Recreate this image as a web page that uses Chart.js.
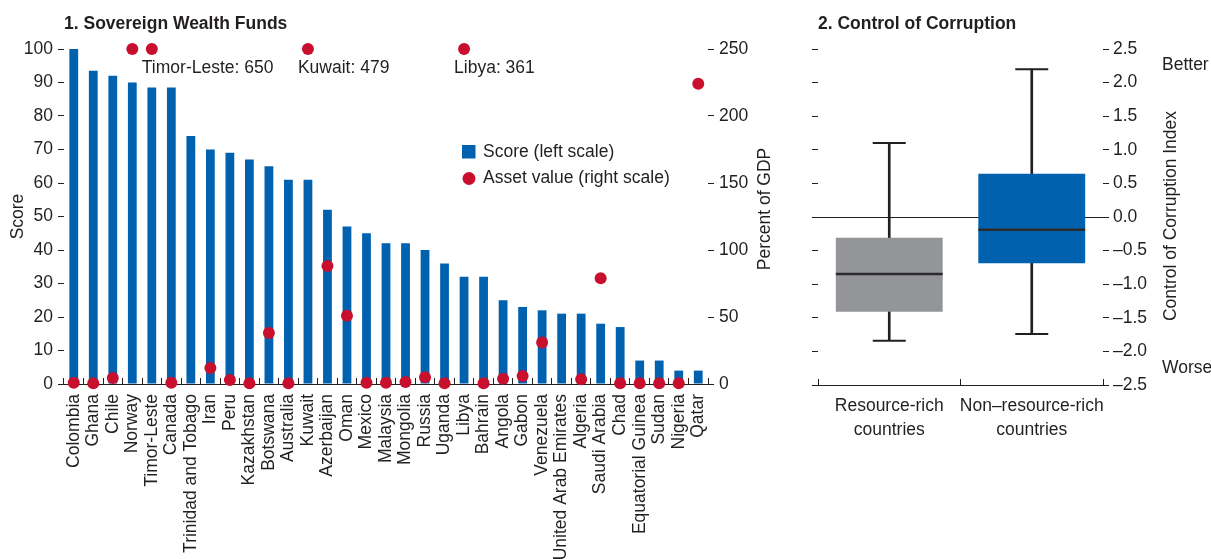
<!DOCTYPE html>
<html><head><meta charset="utf-8">
<script src="https://cdn.jsdelivr.net/npm/chart.js@4.4.0/dist/chart.umd.min.js"></script>
<style>
html,body{margin:0;padding:0;background:#fff;}
#wrap{position:relative;width:1211px;height:559px;overflow:hidden;background:#fff;}
#c1{position:absolute;left:0;top:0;}
#c2{position:absolute;left:790px;top:0;}
</style></head><body>
<div id="wrap"><canvas id="c1" width="790" height="559"></canvas><canvas id="c2" width="421" height="559"></canvas></div>
<script>
// ---------- Panel 1 data ----------
const countries = ["Colombia","Ghana","Chile","Norway","Timor-Leste","Canada","Trinidad and Tobago","Iran","Peru","Kazakhstan","Botswana","Australia","Kuwait","Azerbaijan","Oman","Mexico","Malaysia","Mongolia","Russia","Uganda","Libya","Bahrain","Angola","Gabon","Venezuela","United Arab Emirates","Algeria","Saudi Arabia","Chad","Equatorial Guinea","Sudan","Nigeria","Qatar"];
const scores = [100,93.5,92,90,88.5,88.5,74,70,69,67,65,61,61,52,47,45,42,42,40,36,32,32,25,23,22,21,21,18,17,7,7,4,4];
const assetValues = [1,0.5,4.5,250,650,1,null,12,3,0.5,38,0.5,479,88,51,1,1,1.5,5,0.5,361,0.5,4,6,31,null,3.5,79,0.5,0.5,0.5,0.5,224];
const assetCap = 250;
const scoreTicks = [0,10,20,30,40,50,60,70,80,90,100];
const assetTicks = [0,50,100,150,200,250];

// ---------- Panel 2 data ----------
const groups = [["Resource-rich","countries"],["Non\u2013resource-rich","countries"]];
const boxQ1 = [-1.41,-0.69];
const boxMedian = [-0.85,-0.19];
const boxQ3 = [-0.31,0.645];
const whiskerMin = [-1.84,-1.74];
const whiskerMax = [1.10,2.20];
const corruptionTicks = [-2.5,-2,-1.5,-1,-0.5,0,0.5,1,1.5,2,2.5];

// ---------- styles ----------
const FONT = '"Liberation Sans", Arial, sans-serif';
const TXT = '#231F20';
const BLUE = '#0061AF';
const RED = '#C8102E';
const GRAY = '#939598';
const FS = 17.5;

Chart.defaults.font.family = FONT;
Chart.defaults.font.size = FS;
Chart.defaults.color = TXT;

const setTicks = arr => (s => { s.ticks = arr.map(v => ({value: v})); });

const panel1Plugin = {
  id: 'panel1Extras',
  afterDatasetsDraw(chart) {
    const ctx = chart.ctx, xs = chart.scales.x, ys = chart.scales.y1;
    ctx.save();
    ctx.font = FS + 'px ' + FONT;
    ctx.fillStyle = TXT;
    ctx.textBaseline = 'middle';
    ctx.textAlign = 'left';
    assetValues.forEach((v, i) => {
      if (v != null && v > assetCap) {
        ctx.fillText(countries[i] + ': ' + v, xs.getPixelForValue(i) - 10, ys.getPixelForValue(assetCap) + 19);
      }
    });
    // legend
    const bar = chart.data.datasets[1], dot = chart.data.datasets[0];
    ctx.fillStyle = bar.backgroundColor;
    ctx.fillRect(462, 145, 13.5, 13.5);
    ctx.fillStyle = dot.pointBackgroundColor;
    ctx.beginPath(); ctx.arc(469, 178.5, 6.5, 0, Math.PI * 2); ctx.fill();
    ctx.fillStyle = TXT;
    ctx.fillText(bar.label, 483, 152);
    ctx.fillText(dot.label, 483, 178.5);
    // right axis title
    ctx.translate(765, 209);
    ctx.rotate(-Math.PI / 2);
    ctx.textAlign = 'center';
    ctx.fillText('Percent of GDP', 0, 0);
    ctx.restore();
  }
};

new Chart(document.getElementById('c1'), {
  type: 'bar',
  data: {
    labels: countries,
    datasets: [
      {type: 'line', label: 'Asset value (right scale)', data: assetValues.map(v => v == null ? null : Math.min(v, assetCap)),
       yAxisID: 'y1', showLine: false, pointRadius: 6, pointBackgroundColor: RED, pointBorderWidth: 0,
       borderColor: RED, backgroundColor: RED, clip: false, order: 0},
      {label: 'Score (left scale)', data: scores, backgroundColor: BLUE, yAxisID: 'y',
       barPercentage: 0.45, categoryPercentage: 1, order: 1}
    ]
  },
  options: {
    responsive: false, animation: false, events: [],
    layout: {padding: 0, autoPadding: false},
    plugins: {
      legend: {display: false}, tooltip: {enabled: false},
      title: {display: true, text: '1. Sovereign Wealth Funds', align: 'start', fullSize: false,
              font: {size: FS, weight: 'bold'}, color: TXT, padding: {top: 14, bottom: 14}}
    },
    scales: {
      x: {
        grid: {display: true, drawOnChartArea: false, tickLength: -6, tickColor: TXT, offset: true},
        border: {display: true, color: TXT, width: 1},
        ticks: {autoSkip: false, maxRotation: 90, minRotation: 90, padding: 16, color: TXT},
        afterFit(s) { s.height = 175; }
      },
      y: {
        position: 'left', min: 0, max: 100, afterBuildTicks: setTicks(scoreTicks),
        grid: {drawOnChartArea: false, tickLength: 6, tickColor: TXT},
        border: {display: false},
        ticks: {padding: 5, color: TXT},
        title: {display: true, text: 'Score', padding: {top: 8, bottom: 0}, color: TXT, font: {size: FS}},
        afterFit(s) { s.width = 64; }
      },
      y1: {
        position: 'right', min: 0, max: 250, afterBuildTicks: setTicks(assetTicks),
        grid: {drawOnChartArea: false, tickLength: 6, tickColor: TXT},
        border: {display: false},
        ticks: {padding: 5, color: TXT},
        afterFit(s) { s.width = 82; }
      }
    }
  },
  plugins: [panel1Plugin]
});

const panel2Plugin = {
  id: 'panel2Extras',
  afterDatasetsDraw(chart) {
    const ctx = chart.ctx;
    ctx.save();
    ctx.font = FS + 'px ' + FONT;
    ctx.fillStyle = TXT;
    ctx.textBaseline = 'middle';
    ctx.textAlign = 'left';
    ctx.fillText('Better', 372, 65);
    ctx.fillText('Worse', 372, 368);
    ctx.translate(381, 216);
    ctx.rotate(-Math.PI / 2);
    ctx.textAlign = 'center';
    ctx.fillText('Control of Corruption Index', 0, 0);
    ctx.restore();
  }
};

new Chart(document.getElementById('c2'), {
  type: 'bar',
  data: {
    labels: groups,
    datasets: [
      {type: 'line', label: 'Maximum', data: whiskerMax, showLine: false, pointStyle: 'line', pointRadius: 16.5,
       pointBorderWidth: 2, pointBorderColor: TXT, borderColor: TXT, clip: false, order: 1},
      {type: 'line', label: 'Minimum', data: whiskerMin, showLine: false, pointStyle: 'line', pointRadius: 16.5,
       pointBorderWidth: 2, pointBorderColor: TXT, borderColor: TXT, clip: false, order: 1},
      {type: 'line', label: 'Median', data: boxMedian, showLine: false, pointStyle: 'line', pointRadius: 53.4,
       pointBorderWidth: 2.5, pointBorderColor: '#2b2b2b', borderColor: '#2b2b2b', clip: false, order: 0},
      {label: 'Interquartile range', data: boxQ1.map((q, i) => [q, boxQ3[i]]), backgroundColor: [GRAY, BLUE],
       barPercentage: 0.75, categoryPercentage: 1, grouped: false, order: 3},
      {label: 'Range', data: whiskerMin.map((m, i) => [m, whiskerMax[i]]), backgroundColor: TXT,
       barThickness: 2, grouped: false, order: 4}
    ]
  },
  options: {
    responsive: false, animation: false, events: [],
    layout: {padding: 0, autoPadding: false},
    plugins: {
      legend: {display: false}, tooltip: {enabled: false},
      title: {display: true, text: '2. Control of Corruption', align: 'start', fullSize: false,
              font: {size: FS, weight: 'bold'}, color: TXT, padding: {top: 14, bottom: 14}}
    },
    scales: {
      x: {
        grid: {display: true, drawOnChartArea: false, tickLength: -6, tickColor: TXT, offset: true},
        border: {display: true, color: TXT, width: 1},
        ticks: {autoSkip: false, maxRotation: 0, minRotation: 0, padding: 15.5, color: TXT, font: {size: FS, lineHeight: 1.37}},
        afterFit(s) { s.height = 174; }
      },
      y: {
        position: 'left', min: -2.5, max: 2.5, afterBuildTicks: setTicks(corruptionTicks),
        grid: {drawOnChartArea: true, tickLength: 6, tickColor: TXT,
               color: c => (c.tick && c.tick.value === 0) ? TXT : 'rgba(0,0,0,0)'},
        border: {display: false},
        ticks: {display: false},
        afterFit(s) { s.width = 28; }
      },
      y2: {
        position: 'right', min: -2.5, max: 2.5, afterBuildTicks: setTicks(corruptionTicks),
        grid: {drawOnChartArea: false, tickLength: 6, tickColor: TXT},
        border: {display: false},
        ticks: {padding: 4, color: TXT, callback: v => v.toFixed(1).replace('-', '\u2013')},
        afterFit(s) { s.width = 108; }
      }
    }
  },
  plugins: [panel2Plugin]
});
</script>
</body></html>
